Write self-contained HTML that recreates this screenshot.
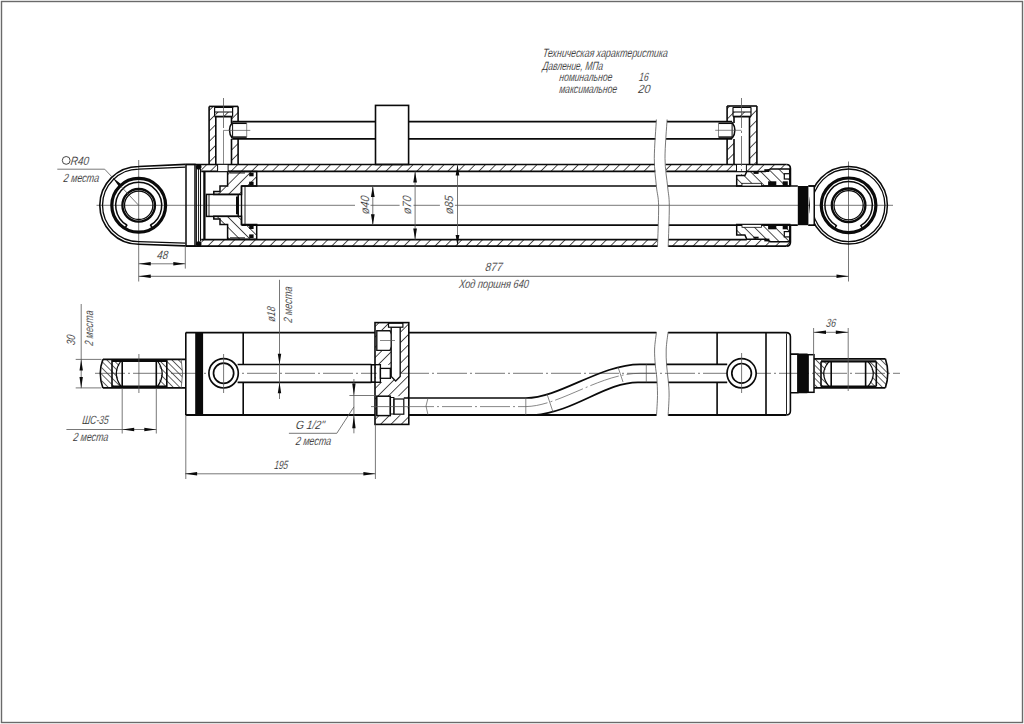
<!DOCTYPE html>
<html><head><meta charset="utf-8"><style>
html,body{margin:0;padding:0;background:#fff;width:1024px;height:724px;overflow:hidden}
svg{display:block}
text{font-family:"Liberation Sans",sans-serif;font-style:italic;fill:#111;stroke:#fff;stroke-width:0.2px}
</style></head><body>
<svg width="1024" height="724" viewBox="0 0 1024 724">
<defs>
<pattern id="h1" width="7.3" height="7.3" patternUnits="userSpaceOnUse" patternTransform="rotate(45) translate(-0.7,0)"><line x1="0.4" y1="0" x2="0.4" y2="7.3" stroke="#333" stroke-width="0.9"/></pattern>
<pattern id="h3" width="4.6" height="4.6" patternUnits="userSpaceOnUse" patternTransform="rotate(45)"><line x1="0.4" y1="0" x2="0.4" y2="4.6" stroke="#333" stroke-width="0.8"/></pattern>
<pattern id="h4" width="4.6" height="4.6" patternUnits="userSpaceOnUse" patternTransform="rotate(-45)"><line x1="0.4" y1="0" x2="0.4" y2="4.6" stroke="#333" stroke-width="0.8"/></pattern>
<pattern id="h2" width="7.3" height="7.3" patternUnits="userSpaceOnUse" patternTransform="rotate(-45)"><line x1="0.4" y1="0" x2="0.4" y2="7.3" stroke="#333" stroke-width="0.9"/></pattern>
</defs>
<rect width="1024" height="724" fill="#fff"/>
<rect x="1.5" y="1.5" width="1021" height="721" fill="none" stroke="#6a6a6a" stroke-width="1.4"/>
<text x="542.5" y="57.2" font-size="12" text-anchor="start" textLength="125" lengthAdjust="spacingAndGlyphs" transform="translate(542.5,57.2) skewX(-7) translate(-542.5,-57.2)" >Техническая характеристика</text>
<text x="542.2" y="69.6" font-size="12" text-anchor="start" textLength="60.5" lengthAdjust="spacingAndGlyphs" transform="translate(542.2,69.6) skewX(-7) translate(-542.2,-69.6)" >Давление, МПа</text>
<text x="559" y="81.3" font-size="12" text-anchor="start" textLength="53" lengthAdjust="spacingAndGlyphs" transform="translate(559,81.3) skewX(-7) translate(-559,-81.3)" >номинальное</text>
<text x="643.5" y="81.3" font-size="12" text-anchor="middle" textLength="9.5" lengthAdjust="spacingAndGlyphs" transform="translate(643.5,81.3) skewX(-7) translate(-643.5,-81.3)" >16</text>
<text x="559" y="93.2" font-size="12" text-anchor="start" textLength="57.8" lengthAdjust="spacingAndGlyphs" transform="translate(559,93.2) skewX(-7) translate(-559,-93.2)" >максимальное</text>
<text x="644" y="93.2" font-size="12" text-anchor="middle" textLength="12" lengthAdjust="spacingAndGlyphs" transform="translate(644,93.2) skewX(-7) translate(-644,-93.2)" >20</text>
<line x1="96.5" y1="205.3" x2="893" y2="205.3" stroke="#555" stroke-width="0.8" />
<line x1="138.7" y1="160" x2="138.7" y2="281.5" stroke="#555" stroke-width="0.8" />
<line x1="848.5" y1="161.5" x2="848.5" y2="281.5" stroke="#555" stroke-width="0.8" />
<path d="M185.4,164.4 L138.7,166.45 A38.9,38.9 0 0 0 138.7,244.25 L185.4,245.9" stroke="#0a0a0a" stroke-width="1.6" fill="none" />
<path d="M185.4,167.2 L138.7,169.15 A36.2,36.2 0 0 0 138.7,241.55 L185.4,243.2" stroke="#0a0a0a" stroke-width="1.3" fill="none" />
<circle cx="138.7" cy="205.3" r="26.9" stroke="#0a0a0a" stroke-width="3.2" fill="none" />
<path d="M126.85,225.01 A23.0,23.0 0 1 1 150.55,225.01" stroke="#0a0a0a" stroke-width="1.5" fill="none"/>
<line x1="150.2883566854762" y1="224.58626426579752" x2="152.3485089851164" y2="228.014933468606" stroke="#0a0a0a" stroke-width="1.6" />
<line x1="127.11164331452377" y1="224.58626426579752" x2="125.05149101488355" y2="228.014933468606" stroke="#0a0a0a" stroke-width="1.6" />
<circle cx="138.7" cy="205.3" r="16.3" stroke="#0a0a0a" stroke-width="2.3" fill="none" />
<circle cx="138.7" cy="205.3" r="14.2" stroke="#0a0a0a" stroke-width="1.3" fill="none" />
<path d="M57.3,169.2 L104.7,169.2 L138.7,205.3" stroke="#555" stroke-width="0.8" fill="none" />
<path d="M112.60,177.40 L122.55,185.20 L119.79,187.80 Z" fill="#0a0a0a" stroke="none"/>
<circle cx="66.2" cy="160.4" r="3.9" stroke="#333" stroke-width="0.9" fill="none" />
<text x="70.2" y="164.6" font-size="12" text-anchor="start" textLength="18.4" lengthAdjust="spacingAndGlyphs" transform="translate(70.2,164.6) skewX(-7) translate(-70.2,-164.6)" >R40</text>
<text x="63.2" y="181.6" font-size="12" text-anchor="start" textLength="35.6" lengthAdjust="spacingAndGlyphs" transform="translate(63.2,181.6) skewX(-7) translate(-63.2,-181.6)" >2 места</text>
<rect x="186.0" y="164.4" width="9.0" height="81.69999999999999" stroke="#0a0a0a" stroke-width="1.5" fill="none" />
<line x1="196.5" y1="166" x2="196.5" y2="244.6" stroke="#0a0a0a" stroke-width="0.9" />
<line x1="198.5" y1="167" x2="198.5" y2="243.5" stroke="#0a0a0a" stroke-width="0.9" />
<line x1="200.5" y1="169" x2="200.5" y2="241.5" stroke="#0a0a0a" stroke-width="1.1" />
<line x1="204.4" y1="171.3" x2="204.4" y2="239.6" stroke="#0a0a0a" stroke-width="2.3" />
<circle cx="198.7" cy="166.8" r="2.8" stroke="#0a0a0a" stroke-width="0" fill="#0a0a0a" />
<circle cx="198.7" cy="244.0" r="2.8" stroke="#0a0a0a" stroke-width="0" fill="#0a0a0a" />
<path d="M201.2,164.5 L654.75,164.5 L655.27,171.4 L201.2,171.4 Z" fill="url(#h1)" stroke="none"/>
<path d="M201.2,239.6 L657.69,239.6 L657.52,246.1 L201.2,246.1 Z" fill="url(#h1)" stroke="none"/>
<path d="M665.56,164.5 L790,164.5 L790,168.9 L770.6,168.9 L765.5,171.4 L666.2,171.4 Z" fill="url(#h1)" stroke="none"/>
<path d="M668.22,246.1 L790,246.1 L790,241.7 L770.6,241.7 L765.5,239.6 L668.39,239.6 Z" fill="url(#h1)" stroke="none"/>
<line x1="185.6" y1="164.5" x2="654.75" y2="164.5" stroke="#0a0a0a" stroke-width="1.7" />
<line x1="665.56" y1="164.5" x2="786.5" y2="164.5" stroke="#0a0a0a" stroke-width="1.7" />
<line x1="201.2" y1="171.4" x2="655.27" y2="171.4" stroke="#0a0a0a" stroke-width="1.7" />
<line x1="666.2" y1="171.4" x2="746.8" y2="171.4" stroke="#0a0a0a" stroke-width="1.7" />
<line x1="201.2" y1="239.6" x2="657.69" y2="239.6" stroke="#0a0a0a" stroke-width="1.7" />
<line x1="668.39" y1="239.6" x2="746.8" y2="239.6" stroke="#0a0a0a" stroke-width="1.7" />
<line x1="185.6" y1="246.1" x2="657.52" y2="246.1" stroke="#0a0a0a" stroke-width="1.7" />
<line x1="668.22" y1="246.1" x2="786.5" y2="246.1" stroke="#0a0a0a" stroke-width="1.7" />
<line x1="241.5" y1="186.0" x2="656.37" y2="186.0" stroke="#0a0a0a" stroke-width="1.7" />
<line x1="667.56" y1="186.0" x2="797.8" y2="186.0" stroke="#0a0a0a" stroke-width="1.7" />
<line x1="241.5" y1="225.2" x2="658.08" y2="225.2" stroke="#0a0a0a" stroke-width="1.7" />
<line x1="668.78" y1="225.2" x2="797.8" y2="225.2" stroke="#0a0a0a" stroke-width="1.7" />
<line x1="241.5" y1="186.0" x2="241.5" y2="225.2" stroke="#0a0a0a" stroke-width="1.4" />
<line x1="245.0" y1="186.0" x2="245.0" y2="225.2" stroke="#0a0a0a" stroke-width="0.9" />
<rect x="797.8" y="186.0" width="10.600000000000023" height="39.19999999999999" stroke="#0a0a0a" stroke-width="0" fill="#0a0a0a" />
<path d="M808.4,186.0 L814.2,186.0 L814.2,225.2 L808.4,225.2" stroke="#0a0a0a" stroke-width="1.4" fill="none" />
<path d="M227.6,239.20000000000002 L256.7,239.20000000000002 L256.7,224.60000000000002 L241.5,224.60000000000002 L241.5,216.20000000000002 L213.8,216.20000000000002 L213.8,219.00000000000003 L220,219.00000000000003 L220,224.50000000000003 L227.6,224.50000000000003 Z" fill="url(#h2)" stroke="none"/>
<path d="M227.6,239.20000000000002 L256.7,239.20000000000002 L256.7,224.60000000000002 L241.5,224.60000000000002 L241.5,216.20000000000002 L213.8,216.20000000000002 L213.8,219.00000000000003 L220,219.00000000000003 L220,224.50000000000003 L227.6,224.50000000000003 Z" stroke="#0a0a0a" stroke-width="1.5" fill="none" />
<path d="M227.6,171.4 L256.7,171.4 L256.7,186.0 L241.5,186.0 L241.5,194.4 L213.8,194.4 L213.8,191.6 L220,191.6 L220,186.1 L227.6,186.1 Z" fill="url(#h1)" stroke="none"/>
<path d="M227.6,171.4 L256.7,171.4 L256.7,186.0 L241.5,186.0 L241.5,194.4 L213.8,194.4 L213.8,191.6 L220,191.6 L220,186.1 L227.6,186.1 Z" stroke="#0a0a0a" stroke-width="1.5" fill="none" />
<rect x="249.2" y="172.7" width="4.400000000000006" height="3.6000000000000227" stroke="#0a0a0a" stroke-width="0" fill="#0a0a0a" />
<rect x="249.2" y="181.7" width="4.400000000000006" height="3.6000000000000227" stroke="#0a0a0a" stroke-width="0" fill="#0a0a0a" />
<rect x="249.2" y="225.39999999999998" width="4.400000000000006" height="3.6000000000000227" stroke="#0a0a0a" stroke-width="0" fill="#0a0a0a" />
<rect x="249.2" y="234.39999999999998" width="4.400000000000006" height="3.6000000000000227" stroke="#0a0a0a" stroke-width="0" fill="#0a0a0a" />
<line x1="230" y1="173.0" x2="245" y2="173.0" stroke="#0a0a0a" stroke-width="0.9" />
<line x1="230" y1="237.8" x2="245" y2="237.8" stroke="#0a0a0a" stroke-width="0.9" />
<rect x="206.4" y="194.4" width="31.799999999999983" height="22.0" stroke="#0a0a0a" stroke-width="1.5" fill="none" />
<line x1="209" y1="194.4" x2="209" y2="216.4" stroke="#0a0a0a" stroke-width="0.9" />
<rect x="236.0" y="196.5" width="2.5999999999999943" height="17.80000000000001" stroke="#0a0a0a" stroke-width="0" fill="#0a0a0a" />
<rect x="209.1" y="106.4" width="6.700000000000017" height="58.099999999999994" fill="url(#h1)" stroke="none"/>
<rect x="231.5" y="106.4" width="6.599999999999994" height="15.299999999999997" fill="url(#h1)" stroke="none"/>
<rect x="231.5" y="138.9" width="6.599999999999994" height="25.599999999999994" fill="url(#h1)" stroke="none"/>
<line x1="209.1" y1="106.4" x2="238.1" y2="106.4" stroke="#0a0a0a" stroke-width="1.6" />
<line x1="209.1" y1="106.4" x2="209.1" y2="164.5" stroke="#0a0a0a" stroke-width="1.6" />
<line x1="238.1" y1="106.4" x2="238.1" y2="121.7" stroke="#0a0a0a" stroke-width="1.6" />
<line x1="238.1" y1="138.9" x2="238.1" y2="164.5" stroke="#0a0a0a" stroke-width="1.6" />
<line x1="215.8" y1="116.6" x2="215.8" y2="164.5" stroke="#0a0a0a" stroke-width="1.6" />
<line x1="231.5" y1="116.6" x2="231.5" y2="123.0" stroke="#0a0a0a" stroke-width="1.6" />
<line x1="231.5" y1="138.9" x2="231.5" y2="164.5" stroke="#0a0a0a" stroke-width="1.6" />
<rect x="215" y="107.2" width="17.3" height="9.4" fill="#fff"/>
<rect x="215.4" y="112.0" width="16.5" height="4.200000000000003" fill="url(#h1)" stroke="none"/>
<line x1="214.6" y1="112.0" x2="232.6" y2="112.0" stroke="#0a0a0a" stroke-width="1.0" />
<line x1="214.6" y1="107.5" x2="232.6" y2="107.5" stroke="#0a0a0a" stroke-width="1.0" />
<line x1="214.6" y1="107.2" x2="214.6" y2="116.6" stroke="#0a0a0a" stroke-width="1.2" />
<line x1="232.6" y1="107.2" x2="232.6" y2="116.6" stroke="#0a0a0a" stroke-width="1.2" />
<line x1="214.6" y1="116.6" x2="232.6" y2="116.6" stroke="#0a0a0a" stroke-width="1.8" />
<rect x="217.6" y="164.9" width="10.5" height="6.2" fill="#fff"/>
<line x1="217.6" y1="164.5" x2="217.6" y2="171.4" stroke="#0a0a0a" stroke-width="1.0" />
<line x1="228.1" y1="164.5" x2="228.1" y2="171.4" stroke="#0a0a0a" stroke-width="1.0" />
<line x1="223.5" y1="98" x2="223.5" y2="130" stroke="#555" stroke-width="0.8" stroke-dasharray="30 3 2 3"/>
<path d="M232.3,122.2 Q226.6,130.3 232.3,138.4" stroke="#0a0a0a" stroke-width="1.5" fill="none" />
<line x1="232.4" y1="123.3" x2="246.7" y2="123.3" stroke="#0a0a0a" stroke-width="1.5" />
<line x1="232.4" y1="137.1" x2="246.7" y2="137.1" stroke="#0a0a0a" stroke-width="1.5" />
<line x1="232.6" y1="123" x2="232.6" y2="137.5" stroke="#0a0a0a" stroke-width="1.0" />
<line x1="246.7" y1="123.3" x2="246.7" y2="137.1" stroke="#555" stroke-width="0.7" />
<line x1="223.5" y1="130.4" x2="250.3" y2="130.4" stroke="#555" stroke-width="0.7" />
<line x1="223.5" y1="130.4" x2="223.5" y2="164" stroke="#555" stroke-width="0.7" />
<line x1="232.3" y1="121.7" x2="375.5" y2="121.7" stroke="#0a0a0a" stroke-width="1.7" />
<line x1="408.6" y1="121.7" x2="656.28" y2="121.7" stroke="#0a0a0a" stroke-width="1.7" />
<line x1="666.98" y1="121.7" x2="732.1" y2="121.7" stroke="#0a0a0a" stroke-width="1.7" />
<line x1="232.3" y1="138.9" x2="375.5" y2="138.9" stroke="#0a0a0a" stroke-width="1.7" />
<line x1="408.6" y1="138.9" x2="655.36" y2="138.9" stroke="#0a0a0a" stroke-width="1.7" />
<line x1="666.06" y1="138.9" x2="732.1" y2="138.9" stroke="#0a0a0a" stroke-width="1.7" />
<rect x="375.5" y="105.4" width="33.10000000000002" height="59.099999999999994" stroke="#0a0a0a" stroke-width="1.6" fill="none" />
<rect x="727.1" y="106.0" width="6.899999999999977" height="15.700000000000003" fill="url(#h1)" stroke="none"/>
<rect x="727.1" y="138.9" width="6.899999999999977" height="25.599999999999994" fill="url(#h1)" stroke="none"/>
<rect x="749.5" y="106.0" width="7.399999999999977" height="58.5" fill="url(#h1)" stroke="none"/>
<line x1="727.1" y1="106.0" x2="756.9" y2="106.0" stroke="#0a0a0a" stroke-width="1.6" />
<line x1="756.9" y1="106.0" x2="756.9" y2="164.5" stroke="#0a0a0a" stroke-width="1.6" />
<line x1="727.1" y1="106.0" x2="727.1" y2="121.7" stroke="#0a0a0a" stroke-width="1.6" />
<line x1="727.1" y1="138.9" x2="727.1" y2="164.5" stroke="#0a0a0a" stroke-width="1.6" />
<line x1="734.0" y1="116.6" x2="734.0" y2="123.0" stroke="#0a0a0a" stroke-width="1.6" />
<line x1="734.0" y1="138.9" x2="734.0" y2="164.5" stroke="#0a0a0a" stroke-width="1.6" />
<line x1="749.5" y1="116.6" x2="749.5" y2="164.5" stroke="#0a0a0a" stroke-width="1.6" />
<rect x="733.4" y="107.2" width="17" height="9.4" fill="#fff"/>
<rect x="733.8" y="112.0" width="16.40000000000009" height="4.200000000000003" fill="url(#h1)" stroke="none"/>
<line x1="733" y1="112.0" x2="751" y2="112.0" stroke="#0a0a0a" stroke-width="1.0" />
<line x1="733" y1="107.5" x2="751" y2="107.5" stroke="#0a0a0a" stroke-width="1.0" />
<line x1="733" y1="107.2" x2="733" y2="116.6" stroke="#0a0a0a" stroke-width="1.2" />
<line x1="751" y1="107.2" x2="751" y2="116.6" stroke="#0a0a0a" stroke-width="1.2" />
<line x1="733" y1="116.6" x2="751" y2="116.6" stroke="#0a0a0a" stroke-width="1.8" />
<rect x="736.5" y="164.9" width="9.9" height="6.2" fill="#fff"/>
<line x1="736.5" y1="164.5" x2="736.5" y2="171.4" stroke="#0a0a0a" stroke-width="1.0" />
<line x1="746.4" y1="164.5" x2="746.4" y2="171.4" stroke="#0a0a0a" stroke-width="1.0" />
<line x1="741.5" y1="98" x2="741.5" y2="176" stroke="#555" stroke-width="0.8" stroke-dasharray="30 3 2 3"/>
<path d="M732.1,122.2 Q737.8,130.3 732.1,138.4" stroke="#0a0a0a" stroke-width="1.5" fill="none" />
<line x1="718.5" y1="123.3" x2="732.1" y2="123.3" stroke="#0a0a0a" stroke-width="1.5" />
<line x1="718.5" y1="137.1" x2="732.1" y2="137.1" stroke="#0a0a0a" stroke-width="1.5" />
<line x1="732.1" y1="123" x2="732.1" y2="137.5" stroke="#0a0a0a" stroke-width="1.0" />
<line x1="718.5" y1="123.3" x2="718.5" y2="137.1" stroke="#555" stroke-width="0.7" />
<line x1="715.2" y1="130.3" x2="741.5" y2="130.3" stroke="#555" stroke-width="0.7" />
<path d="M736.7,235.00000000000003 L744.9,235.00000000000003 L746.8,239.20000000000002 L765.5,239.20000000000002 L770.6,241.70000000000002 L789.7,241.70000000000002 L789.7,224.60000000000002 L736.7,224.60000000000002 Z" fill="url(#h2)" stroke="none"/>
<path d="M736.7,235.00000000000003 L744.9,235.00000000000003 L746.8,239.20000000000002 L765.5,239.20000000000002 L770.6,241.70000000000002 L789.7,241.70000000000002 L789.7,224.60000000000002 L736.7,224.60000000000002 Z" stroke="#0a0a0a" stroke-width="1.5" fill="none" />
<path d="M736.7,175.6 L744.9,175.6 L746.8,171.4 L765.5,171.4 L770.6,168.9 L789.7,168.9 L789.7,186.0 L736.7,186.0 Z" fill="url(#h2)" stroke="none"/>
<path d="M736.7,175.6 L744.9,175.6 L746.8,171.4 L765.5,171.4 L770.6,168.9 L789.7,168.9 L789.7,186.0 L736.7,186.0 Z" stroke="#0a0a0a" stroke-width="1.5" fill="none" />
<path d="M786.5,164.5 Q790.4,164.5 790.4,168.4 L790.4,186.0" stroke="#0a0a0a" stroke-width="1.7" fill="none" />
<path d="M786.5,246.1 Q790.4,246.1 790.4,242.2 L790.4,225.2" stroke="#0a0a0a" stroke-width="1.7" fill="none" />
<rect x="753.5" y="172" width="5.100000000000023" height="1.9000000000000057" stroke="#0a0a0a" stroke-width="0" fill="#0a0a0a" />
<rect x="753.5" y="236.70000000000002" width="5.100000000000023" height="1.9000000000000057" stroke="#0a0a0a" stroke-width="0" fill="#0a0a0a" />
<rect x="764.3" y="169.2" width="5.100000000000023" height="2.8000000000000114" stroke="#0a0a0a" stroke-width="0" fill="#0a0a0a" />
<rect x="764.3" y="238.60000000000002" width="5.100000000000023" height="2.8000000000000114" stroke="#0a0a0a" stroke-width="0" fill="#0a0a0a" />
<rect x="768.1" y="181.3" width="8.199999999999932" height="4.699999999999989" stroke="#0a0a0a" stroke-width="0" fill="#0a0a0a" />
<rect x="768.1" y="224.60000000000002" width="8.199999999999932" height="4.699999999999989" stroke="#0a0a0a" stroke-width="0" fill="#0a0a0a" />
<rect x="782.7" y="181.3" width="5.099999999999909" height="4.699999999999989" stroke="#0a0a0a" stroke-width="0" fill="#0a0a0a" />
<rect x="782.7" y="224.60000000000002" width="5.099999999999909" height="4.699999999999989" stroke="#0a0a0a" stroke-width="0" fill="#0a0a0a" />
<rect x="784.3" y="173.7" width="5.400000000000091" height="5.300000000000011" stroke="#0a0a0a" stroke-width="1.2" fill="#fff" />
<rect x="784.3" y="231.6" width="5.400000000000091" height="5.300000000000011" stroke="#0a0a0a" stroke-width="1.2" fill="#fff" />
<rect x="742" y="183.3" width="19.399999999999977" height="2.6999999999999886" stroke="#0a0a0a" stroke-width="0.8" fill="#fff" />
<rect x="742" y="224.6" width="19.399999999999977" height="2.700000000000017" stroke="#0a0a0a" stroke-width="0.8" fill="#fff" />
<circle cx="848.6" cy="205.3" r="38.8" stroke="#0a0a0a" stroke-width="1.5" fill="none" />
<circle cx="848.6" cy="205.3" r="36.3" stroke="#0a0a0a" stroke-width="1.3" fill="none" />
<circle cx="848.6" cy="205.3" r="27.3" stroke="#0a0a0a" stroke-width="3.2" fill="none" />
<path d="M836.39,225.61 A23.7,23.7 0 1 1 860.81,225.61" stroke="#0a0a0a" stroke-width="1.5" fill="none"/>
<line x1="860.5488833379133" y1="225.186281376289" x2="862.5060280225715" y2="228.44351711895703" stroke="#0a0a0a" stroke-width="1.6" />
<line x1="836.6511166620868" y1="225.186281376289" x2="834.6939719774285" y2="228.44351711895703" stroke="#0a0a0a" stroke-width="1.6" />
<circle cx="848.6" cy="205.3" r="16.8" stroke="#0a0a0a" stroke-width="2.3" fill="none" />
<circle cx="848.6" cy="205.3" r="14.6" stroke="#0a0a0a" stroke-width="1.3" fill="none" />
<rect x="810" y="187.0" width="4" height="37.19999999999999" fill="#fff"/>
<path d="M808.4,186.0 L814.2,186.0 L814.2,225.2 L808.4,225.2" stroke="#0a0a0a" stroke-width="1.4" fill="none" />
<path d="M656.4,119.5 C656.05,126.00 654.30,147.35 654.3,158.5 C654.30,169.65 655.68,178.55 656.4,186.4 C657.12,194.25 658.42,195.53 658.6,205.6 C658.78,215.67 657.68,239.93 657.5,246.8" stroke="#555" stroke-width="0.8" fill="none" />
<path d="M667.1,119.5 C666.75,126.00 664.92,147.35 665.0,158.5 C665.08,169.65 666.88,178.55 667.6,186.4 C668.32,194.25 669.20,195.53 669.3,205.6 C669.40,215.67 668.38,239.93 668.2,246.8" stroke="#555" stroke-width="0.8" fill="none" />
<rect x="355" y="203.8" width="15.5" height="3" fill="#fff"/>
<line x1="372.8" y1="186.0" x2="372.8" y2="225.2" stroke="#555" stroke-width="0.8" />
<path d="M372.80,186.00 L374.65,197.00 L370.95,197.00 Z" fill="#0a0a0a" stroke="none"/>
<path d="M372.80,225.20 L370.95,214.20 L374.65,214.20 Z" fill="#0a0a0a" stroke="none"/>
<text x="368.6" y="205.3" font-size="12" text-anchor="middle" textLength="18.5" lengthAdjust="spacingAndGlyphs" transform="rotate(-90 368.6 205.3) translate(368.6,205.3) skewX(-7) translate(-368.6,-205.3)" >ø40</text>
<rect x="399.6" y="203.8" width="13.899999999999977" height="3" fill="#fff"/>
<line x1="415.1" y1="171.4" x2="415.1" y2="239.6" stroke="#555" stroke-width="0.8" />
<path d="M415.10,171.40 L416.95,182.40 L413.25,182.40 Z" fill="#0a0a0a" stroke="none"/>
<path d="M415.10,239.60 L413.25,228.60 L416.95,228.60 Z" fill="#0a0a0a" stroke="none"/>
<text x="410.6" y="205.3" font-size="12" text-anchor="middle" textLength="18.5" lengthAdjust="spacingAndGlyphs" transform="rotate(-90 410.6 205.3) translate(410.6,205.3) skewX(-7) translate(-410.6,-205.3)" >ø70</text>
<rect x="439.9" y="203.8" width="15.0" height="3" fill="#fff"/>
<line x1="457.5" y1="164.5" x2="457.5" y2="246.1" stroke="#555" stroke-width="0.8" />
<path d="M457.50,164.50 L459.35,175.50 L455.65,175.50 Z" fill="#0a0a0a" stroke="none"/>
<path d="M457.50,246.10 L455.65,235.10 L459.35,235.10 Z" fill="#0a0a0a" stroke="none"/>
<text x="452.6" y="205.3" font-size="12" text-anchor="middle" textLength="18.5" lengthAdjust="spacingAndGlyphs" transform="rotate(-90 452.6 205.3) translate(452.6,205.3) skewX(-7) translate(-452.6,-205.3)" >ø85</text>
<line x1="185.3" y1="246" x2="185.3" y2="268.6" stroke="#555" stroke-width="0.8" />
<line x1="138.75" y1="263.8" x2="185.3" y2="263.8" stroke="#555" stroke-width="0.8" />
<path d="M138.75,263.80 L150.75,262.10 L150.75,265.50 Z" fill="#0a0a0a" stroke="none"/>
<path d="M185.30,263.80 L173.30,265.50 L173.30,262.10 Z" fill="#0a0a0a" stroke="none"/>
<text x="156.7" y="258.8" font-size="12" text-anchor="start" textLength="11" lengthAdjust="spacingAndGlyphs" transform="translate(156.7,258.8) skewX(-7) translate(-156.7,-258.8)" >48</text>
<line x1="138.75" y1="276.3" x2="848.5" y2="276.3" stroke="#555" stroke-width="0.9" />
<path d="M138.75,276.30 L150.75,274.60 L150.75,278.00 Z" fill="#0a0a0a" stroke="none"/>
<path d="M848.50,276.30 L836.50,278.00 L836.50,274.60 Z" fill="#0a0a0a" stroke="none"/>
<text x="485.1" y="271.4" font-size="12" text-anchor="start" textLength="17" lengthAdjust="spacingAndGlyphs" transform="translate(485.1,271.4) skewX(-7) translate(-485.1,-271.4)" >877</text>
<text x="458.8" y="288.4" font-size="12" text-anchor="start" textLength="69.7" lengthAdjust="spacingAndGlyphs" transform="translate(458.8,288.4) skewX(-7) translate(-458.8,-288.4)" >Ход поршня 640</text>
<line x1="95" y1="373.3" x2="900" y2="373.3" stroke="#555" stroke-width="0.8" stroke-dasharray="30 3 2 3"/>
<path d="M102.9,359.4 L112,359.4 L112,387.9 L102.9,387.9 L100.3,373.3 Z" fill="url(#h4)" stroke="none"/>
<path d="M166.8,359.4 L181.2,359.4 L182.6,373.3 L181.2,387.9 L166.8,387.9 Z" fill="url(#h4)" stroke="none"/>
<path d="M112,361 L121,361 L116.3,373.3 L121,386.4 L112,386.4 Z" fill="url(#h4)" stroke="none"/>
<path d="M157.5,361 L166.8,361 L166.8,386.4 L157.5,386.4 L161.4,373.3 Z" fill="url(#h4)" stroke="none"/>
<path d="M102.9,359.4 Q97.6,373.3 102.9,387.9" stroke="#0a0a0a" stroke-width="1.6" fill="none" />
<line x1="102.9" y1="359.4" x2="185.6" y2="359.4" stroke="#0a0a0a" stroke-width="1.8" />
<line x1="102.9" y1="387.9" x2="185.6" y2="387.9" stroke="#0a0a0a" stroke-width="1.8" />
<line x1="112" y1="359.4" x2="112" y2="387.9" stroke="#0a0a0a" stroke-width="1.6" />
<line x1="166.8" y1="359.4" x2="166.8" y2="387.9" stroke="#0a0a0a" stroke-width="1.6" />
<line x1="122.2" y1="361" x2="122.2" y2="386.4" stroke="#0a0a0a" stroke-width="1.6" />
<line x1="156.3" y1="361" x2="156.3" y2="386.4" stroke="#0a0a0a" stroke-width="1.6" />
<line x1="112" y1="360.8" x2="166.8" y2="360.8" stroke="#0a0a0a" stroke-width="2.2" />
<line x1="112" y1="386.6" x2="166.8" y2="386.6" stroke="#0a0a0a" stroke-width="2.2" />
<path d="M121,361 Q111.6,373.3 121,386.4" stroke="#0a0a0a" stroke-width="1.2" fill="none" />
<path d="M157.5,361 Q166.9,373.3 157.5,386.4" stroke="#0a0a0a" stroke-width="1.2" fill="none" />
<path d="M181.2,359.4 Q184,373.3 181.2,387.9" stroke="#555" stroke-width="0.8" fill="none" />
<line x1="138.9" y1="354" x2="138.9" y2="393" stroke="#555" stroke-width="0.8" />
<line x1="122.2" y1="388" x2="122.2" y2="433.5" stroke="#555" stroke-width="0.8" />
<line x1="156.3" y1="388" x2="156.3" y2="433.5" stroke="#555" stroke-width="0.8" />
<line x1="81.2" y1="304" x2="81.2" y2="388.2" stroke="#555" stroke-width="0.8" />
<line x1="75.7" y1="359.4" x2="101.5" y2="359.4" stroke="#555" stroke-width="0.8" />
<line x1="75.7" y1="387.9" x2="101.5" y2="387.9" stroke="#555" stroke-width="0.8" />
<path d="M81.20,359.40 L82.90,370.40 L79.50,370.40 Z" fill="#0a0a0a" stroke="none"/>
<path d="M81.20,387.90 L79.50,376.90 L82.90,376.90 Z" fill="#0a0a0a" stroke="none"/>
<text x="75.3" y="340.2" font-size="12" text-anchor="middle" textLength="10.4" lengthAdjust="spacingAndGlyphs" transform="rotate(-90 75.3 340.2) translate(75.3,340.2) skewX(-7) translate(-75.3,-340.2)" >30</text>
<text x="93.4" y="328.5" font-size="12" text-anchor="middle" textLength="35.2" lengthAdjust="spacingAndGlyphs" transform="rotate(-90 93.4 328.5) translate(93.4,328.5) skewX(-7) translate(-93.4,-328.5)" >2 места</text>
<line x1="66.4" y1="429.5" x2="156.3" y2="429.5" stroke="#555" stroke-width="0.8" />
<path d="M122.20,429.50 L134.20,427.80 L134.20,431.20 Z" fill="#0a0a0a" stroke="none"/>
<path d="M156.30,429.50 L144.30,431.20 L144.30,427.80 Z" fill="#0a0a0a" stroke="none"/>
<text x="82" y="423.8" font-size="12" text-anchor="start" textLength="26.3" lengthAdjust="spacingAndGlyphs" transform="translate(82,423.8) skewX(-7) translate(-82,-423.8)" >ШС-35</text>
<text x="72.9" y="441.0" font-size="12" text-anchor="start" textLength="35" lengthAdjust="spacingAndGlyphs" transform="translate(72.9,441.0) skewX(-7) translate(-72.9,-441.0)" >2 места</text>
<line x1="185.8" y1="332.6" x2="375" y2="332.6" stroke="#0a0a0a" stroke-width="1.8" />
<line x1="668.03" y1="332.6" x2="786" y2="332.6" stroke="#0a0a0a" stroke-width="1.8" />
<line x1="185.8" y1="415.0" x2="375" y2="415.0" stroke="#0a0a0a" stroke-width="1.8" />
<line x1="408.8" y1="415.0" x2="656.52" y2="415.0" stroke="#0a0a0a" stroke-width="1.8" />
<line x1="668.12" y1="415.0" x2="786" y2="415.0" stroke="#0a0a0a" stroke-width="1.8" />
<line x1="185.8" y1="332.6" x2="185.8" y2="415.0" stroke="#0a0a0a" stroke-width="1.6" />
<rect x="195.2" y="332.6" width="7.900000000000006" height="82.39999999999998" stroke="#0a0a0a" stroke-width="0" fill="#0a0a0a" />
<line x1="243.2" y1="332.6" x2="243.2" y2="364.7" stroke="#0a0a0a" stroke-width="1.6" />
<line x1="243.2" y1="382.2" x2="243.2" y2="415.0" stroke="#0a0a0a" stroke-width="1.6" />
<circle cx="223.6" cy="373.3" r="14.7" stroke="#0a0a0a" stroke-width="1.7" fill="#fff" />
<circle cx="223.6" cy="373.3" r="10.1" stroke="#0a0a0a" stroke-width="1.7" fill="none" />
<line x1="223.6" y1="354" x2="223.6" y2="393" stroke="#555" stroke-width="0.8" />
<line x1="237.6" y1="364.5" x2="371.4" y2="364.5" stroke="#0a0a0a" stroke-width="1.7" />
<line x1="237.6" y1="382.4" x2="371.4" y2="382.4" stroke="#0a0a0a" stroke-width="1.7" />
<rect x="371.4" y="364.7" width="9.0" height="17.5" stroke="#0a0a0a" stroke-width="1.3" fill="none" />
<rect x="380.4" y="368.4" width="9.900000000000034" height="9.900000000000034" stroke="#0a0a0a" stroke-width="1.3" fill="none" />
<rect x="371.6" y="364.9" width="8.599999999999966" height="1.5" fill="url(#h1)" stroke="none"/>
<path d="M375,322.6 L408.8,322.6 L408.8,424.4 L375,424.4 Z" fill="url(#h1)" stroke="none"/>
<path d="M376.8,330.7 L390,330.7 Q396,340.5 390,350.4 L376.8,350.4 Z" fill="#fff" stroke="#151515" stroke-width="1.4"/>
<path d="M391.2,327 L400.2,327 L400.2,376.5 L395.7,381 L391.2,376.5 Z" fill="#fff" stroke="#151515" stroke-width="1.4"/>
<rect x="388.5" y="323.2" width="14.399999999999977" height="4.0" stroke="#0a0a0a" stroke-width="1.2" fill="#fff" />
<rect x="376" y="364.9" width="14" height="17.2" fill="#fff"/>
<rect x="371.4" y="364.7" width="9.0" height="17.5" stroke="#0a0a0a" stroke-width="1.3" fill="none" />
<rect x="380.4" y="368.4" width="9.900000000000034" height="9.900000000000034" stroke="#0a0a0a" stroke-width="1.3" fill="none" />
<rect x="376.6" y="396.2" width="31" height="19" fill="#fff"/>
<rect x="376.8" y="396.2" width="13.5" height="19.400000000000034" stroke="#0a0a0a" stroke-width="1.5" fill="none" />
<rect x="390.3" y="397.5" width="3.599999999999966" height="16.5" stroke="#0a0a0a" stroke-width="1.0" fill="none" />
<rect x="393.9" y="399" width="9.900000000000034" height="15.199999999999989" stroke="#0a0a0a" stroke-width="1.2" fill="none" />
<line x1="375" y1="373.3" x2="376.8" y2="373.3" stroke="#555" stroke-width="0.8" />
<rect x="375" y="322.6" width="33.80000000000001" height="101.79999999999995" stroke="#0a0a0a" stroke-width="1.6" fill="none" />
<line x1="408.8" y1="332.6" x2="656.43" y2="332.6" stroke="#0a0a0a" stroke-width="1.8" />
<line x1="371" y1="406.6" x2="403.8" y2="406.6" stroke="#555" stroke-width="0.8" />
<line x1="380" y1="340.5" x2="395" y2="340.5" stroke="#555" stroke-width="0.7" />
<path d="M403.8,398 L525.8,398 C560,398 600,364.3 640,364.3 L655.27,364.3" stroke="#0a0a0a" stroke-width="1.7" fill="none" />
<path d="M534,415 C575,412 605,382.3 637.9,382.3 L656.97,382.3" stroke="#0a0a0a" stroke-width="1.7" fill="none" />
<line x1="666.58" y1="364.3" x2="727.2" y2="364.3" stroke="#0a0a0a" stroke-width="1.7" />
<line x1="668.34" y1="382.3" x2="727.2" y2="382.3" stroke="#0a0a0a" stroke-width="1.7" />
<path d="M428,398 L426,406 L428,415" stroke="#555" stroke-width="0.7" fill="none" />
<line x1="525.8" y1="398" x2="525.8" y2="415" stroke="#555" stroke-width="0.7" />
<line x1="547" y1="394" x2="553" y2="412" stroke="#555" stroke-width="0.7" />
<line x1="618" y1="367" x2="623" y2="382" stroke="#555" stroke-width="0.7" />
<line x1="646.3" y1="364.3" x2="646.3" y2="382.3" stroke="#555" stroke-width="0.7" />
<path d="M404,406.6 L525.8,406.6 C560,406 600,373.3 640,373.3 L655,373.3" stroke="#555" stroke-width="0.7" fill="none" stroke-dasharray="30 3 2 3"/>
<line x1="717.1" y1="332.6" x2="717.1" y2="364.3" stroke="#0a0a0a" stroke-width="1.6" />
<line x1="717.1" y1="382.3" x2="717.1" y2="415.0" stroke="#0a0a0a" stroke-width="1.6" />
<line x1="766" y1="332.6" x2="766" y2="415.0" stroke="#0a0a0a" stroke-width="1.6" />
<path d="M786,332.6 Q790.4,332.6 790.4,336.6 L790.4,411.0 Q790.4,415.0 786,415.0" stroke="#0a0a0a" stroke-width="1.6" fill="none" />
<line x1="786.5" y1="333.6" x2="786.5" y2="414.0" stroke="#0a0a0a" stroke-width="0.9" />
<circle cx="741.6" cy="373.3" r="14.6" stroke="#0a0a0a" stroke-width="1.7" fill="#fff" />
<circle cx="741.6" cy="373.3" r="9.8" stroke="#0a0a0a" stroke-width="1.7" fill="none" />
<line x1="741.6" y1="353" x2="741.6" y2="393" stroke="#555" stroke-width="0.8" />
<path d="M790.4,354.1 L797.9,354.1 L797.9,392.8 L790.4,392.8" stroke="#0a0a0a" stroke-width="1.6" fill="none" />
<rect x="797.9" y="353.6" width="10.200000000000045" height="39.69999999999999" stroke="#0a0a0a" stroke-width="0" fill="#0a0a0a" rx="1.2"/>
<rect x="808.1" y="354.7" width="5.899999999999977" height="37.60000000000002" stroke="#0a0a0a" stroke-width="1.5" fill="none" />
<path d="M814,358.8 L821,358.8 L821,387.8 L814,387.8 Z" fill="url(#h4)" stroke="none"/>
<path d="M876.3,358.8 L885.4,358.8 L887.8,373.3 L885.4,387.8 L876.3,387.8 Z" fill="url(#h4)" stroke="none"/>
<path d="M821,361.6 L829,361.6 L823.7,373.3 L829,386.4 L821,386.4 Z" fill="url(#h4)" stroke="none"/>
<path d="M868,361.6 L876.3,361.6 L876.3,386.4 L868,386.4 L873.2,373.3 Z" fill="url(#h4)" stroke="none"/>
<line x1="814" y1="358.8" x2="885.4" y2="358.8" stroke="#0a0a0a" stroke-width="1.8" />
<line x1="814" y1="387.8" x2="885.4" y2="387.8" stroke="#0a0a0a" stroke-width="1.8" />
<path d="M885.4,358.8 Q890.2,373.3 885.4,387.8" stroke="#0a0a0a" stroke-width="1.6" fill="none" />
<line x1="821" y1="361.6" x2="821" y2="386.4" stroke="#0a0a0a" stroke-width="1.6" />
<line x1="876.3" y1="361.6" x2="876.3" y2="386.4" stroke="#0a0a0a" stroke-width="1.6" />
<line x1="831.2" y1="361.6" x2="831.2" y2="386.4" stroke="#0a0a0a" stroke-width="1.6" />
<line x1="865.6" y1="361.6" x2="865.6" y2="386.4" stroke="#0a0a0a" stroke-width="1.6" />
<line x1="821" y1="361.3" x2="876.3" y2="361.3" stroke="#0a0a0a" stroke-width="2.2" />
<line x1="821" y1="386.6" x2="876.3" y2="386.6" stroke="#0a0a0a" stroke-width="2.2" />
<path d="M829,361.6 Q818.5,373.3 829,386.4" stroke="#0a0a0a" stroke-width="1.2" fill="none" />
<path d="M868,361.6 Q878.5,373.3 868,386.4" stroke="#0a0a0a" stroke-width="1.2" fill="none" />
<line x1="848.2" y1="328" x2="848.2" y2="391" stroke="#555" stroke-width="0.8" />
<line x1="813.6" y1="328" x2="813.6" y2="358" stroke="#555" stroke-width="0.8" />
<line x1="813.6" y1="332.3" x2="848.2" y2="332.3" stroke="#555" stroke-width="0.8" />
<path d="M813.60,332.30 L826.00,330.60 L826.00,334.00 Z" fill="#0a0a0a" stroke="none"/>
<path d="M848.20,332.30 L835.80,334.00 L835.80,330.60 Z" fill="#0a0a0a" stroke="none"/>
<text x="825.8" y="326.9" font-size="12" text-anchor="start" textLength="9.7" lengthAdjust="spacingAndGlyphs" transform="translate(825.8,326.9) skewX(-7) translate(-825.8,-326.9)" >36</text>
<path d="M656.5,332.0 C656.18,334.83 654.80,343.50 654.6,349 C654.40,354.50 654.93,360.17 655.3,365 C655.67,369.83 656.43,372.92 656.8,378 C657.17,383.08 657.55,389.25 657.5,395.5 C657.45,401.75 656.67,412.17 656.5,415.5" stroke="#555" stroke-width="0.8" fill="none" />
<path d="M668.1,332.0 C667.78,334.83 666.45,343.50 666.2,349 C665.95,354.50 666.27,359.83 666.6,365 C666.93,370.17 667.78,375.00 668.2,380 C668.62,385.00 669.12,389.08 669.1,395 C669.08,400.92 668.27,412.08 668.1,415.5" stroke="#555" stroke-width="0.8" fill="none" />
<line x1="279.5" y1="279.8" x2="279.5" y2="399" stroke="#555" stroke-width="0.8" />
<path d="M279.50,364.70 L277.80,353.70 L281.20,353.70 Z" fill="#0a0a0a" stroke="none"/>
<path d="M279.50,382.20 L281.20,393.20 L277.80,393.20 Z" fill="#0a0a0a" stroke="none"/>
<text x="274.6" y="314.5" font-size="11.5" text-anchor="middle" textLength="15" lengthAdjust="spacingAndGlyphs" transform="rotate(-90 274.6 314.5) translate(274.6,314.5) skewX(-7) translate(-274.6,-314.5)" >ø18</text>
<text x="291.6" y="305" font-size="12" text-anchor="middle" textLength="36" lengthAdjust="spacingAndGlyphs" transform="rotate(-90 291.6 305) translate(291.6,305) skewX(-7) translate(-291.6,-305)" >2 места</text>
<line x1="353.9" y1="379" x2="353.9" y2="433.3" stroke="#555" stroke-width="0.8" />
<line x1="349.4" y1="395.5" x2="375" y2="395.5" stroke="#555" stroke-width="0.8" />
<path d="M353.90,395.50 L352.20,383.50 L355.60,383.50 Z" fill="#0a0a0a" stroke="none"/>
<path d="M353.90,415.20 L355.60,428.20 L352.20,428.20 Z" fill="#0a0a0a" stroke="none"/>
<path d="M353.9,406.9 L336.8,433.3 L288.9,433.3" stroke="#555" stroke-width="0.8" fill="none" />
<text x="295.4" y="429" font-size="12" text-anchor="start" textLength="29" lengthAdjust="spacingAndGlyphs" transform="translate(295.4,429) skewX(-7) translate(-295.4,-429)" >G 1/2&quot;</text>
<text x="295.4" y="444.8" font-size="12" text-anchor="start" textLength="35.4" lengthAdjust="spacingAndGlyphs" transform="translate(295.4,444.8) skewX(-7) translate(-295.4,-444.8)" >2 места</text>
<line x1="185.8" y1="415.0" x2="185.8" y2="479" stroke="#555" stroke-width="0.8" />
<line x1="375.4" y1="424.4" x2="375.4" y2="479" stroke="#555" stroke-width="0.8" />
<line x1="185.1" y1="473.8" x2="375.4" y2="473.8" stroke="#555" stroke-width="0.8" />
<path d="M185.10,473.80 L197.10,472.10 L197.10,475.50 Z" fill="#0a0a0a" stroke="none"/>
<path d="M375.40,473.80 L363.40,475.50 L363.40,472.10 Z" fill="#0a0a0a" stroke="none"/>
<text x="273.9" y="468.7" font-size="12" text-anchor="start" textLength="13.8" lengthAdjust="spacingAndGlyphs" transform="translate(273.9,468.7) skewX(-7) translate(-273.9,-468.7)" >195</text>
</svg>
</body></html>
